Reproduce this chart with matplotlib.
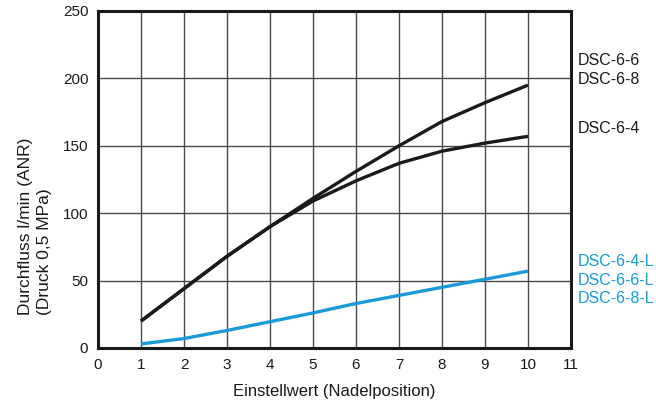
import matplotlib.pyplot as plt

plt.rcParams["font.family"] = ["Liberation Sans", "DejaVu Sans"]

# Einstellwert (needle position)
pos = [1, 2, 3, 4, 5, 6, 7, 8, 9, 10]
flow_66_68 = [20, 44, 68, 90, 111, 131, 150, 168, 182, 195]
flow_64 = [20, 44, 68, 90, 109, 124, 137, 146, 152, 157]
flow_L = [3, 7, 13, 19.5, 26, 33, 39, 45, 51, 57]

black_labels = [("DSC-6-6", 213.5), ("DSC-6-8", 199), ("DSC-6-4", 163)]
blue_labels = [("DSC-6-4-L", 64.5), ("DSC-6-6-L", 50), ("DSC-6-8-L", 36.5)]

BLUE = "#1a9ad6"
INK = "#1a1a1a"

fig = plt.figure(figsize=(6.56, 4.07), dpi=100)
ax = fig.add_axes([0.1494, 0.145, 0.7210, 0.828])

ax.plot(pos, flow_66_68, color=INK, lw=2.4, solid_capstyle="butt")
ax.plot(pos, flow_64, color=INK, lw=2.4, solid_capstyle="butt")
ax.plot(pos, flow_L, color=BLUE, lw=2.4, solid_capstyle="butt")

ax.set_xlim(0, 11)
ax.set_ylim(0, 250)
ax.set_xticks(range(0, 12))
ax.set_yticks(range(0, 251, 50))
ax.grid(True, color="#4a4a4a", lw=1)
ax.set_axisbelow(True)
ax.tick_params(length=0, labelsize=11, pad=7, colors=INK)
for s in ax.spines.values():
    s.set_linewidth(2.2)
    s.set_color(INK)

ax.set_xlabel("Einstellwert (Nadelposition)", fontsize=12, labelpad=9, color=INK)
fig.text(0.053, 0.445, "Durchfluss l/min (ANR)\n(Druck 0,5 MPa)", fontsize=12.5,
         rotation=90, ha="center", va="center", multialignment="left",
         linespacing=1.3, color=INK)

for txt, y in black_labels:
    ax.text(11.15, y, txt, fontsize=11.5, color=INK, va="center", ha="left", clip_on=False)
for txt, y in blue_labels:
    ax.text(11.15, y, txt, fontsize=11.5, color=BLUE, va="center", ha="left", clip_on=False)

fig.savefig("out.png", dpi=100)
